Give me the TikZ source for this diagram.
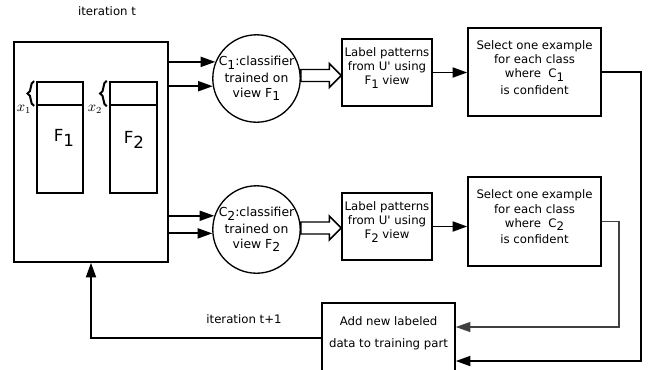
\documentclass[tikz,border=0pt]{standalone}
\usepackage{fontspec}
\setmainfont{DejaVu Sans}
\usetikzlibrary{arrows.meta,calc,fit,decorations.pathreplacing}
% lowered, same-size index as in "F1", "C1"
\newcommand\lowsub[1]{\raisebox{-0.55ex}{#1}}

\begin{document}
\begin{tikzpicture}[x=0.75pt,y=-0.75pt,
  every node/.style={font=\fontsize{8.8}{10.6}\selectfont},
  box/.style={draw, line width=1.1pt, inner sep=0pt, align=center},
  circ/.style={draw, circle, line width=1pt, minimum size=87*0.75pt, inner sep=0pt, align=center,
    font=\fontsize{9.3}{11}\selectfont},
  arr/.style={line width=1.4pt, -{Triangle[length=11pt,width=7.5pt]}},
  thinarr/.style={line width=0.9pt, draw=black!75, -{Triangle[length=11pt,width=7.5pt]}},
  hollow/.style={draw, line width=1.1pt, fill=white},
  bigF/.style={font=\fontsize{12.5}{14}\selectfont},
  idx/.style={font=\fontsize{10.5}{12}\selectfont, inner sep=0pt},
  featbrace/.style={decorate, decoration={brace, amplitude=5pt, aspect=0.5}, line width=1.5pt}
]
\useasboundingbox (0,0) rectangle (655,369);

% training data with its two feature views
\node[box, fit={(14,42)(168,262)}] (big) {};
\node[box, line width=1.3pt, fit={(37,82)(83,105)}] (f1head) {};
\node[box, fit={(37,105)(83,193)}] (f1) {};
\node[box, line width=1.8pt, fit={(110,82)(157,105)}] (f2head) {};
\node[box, fit={(110,105)(157,193)}] (f2) {};
\node[bigF] (f1lab) at (64,138) {F\lowsub{1}};
\node[bigF] (f2lab) at (134,140) {F\lowsub{2}};
\draw[featbrace] ([xshift=-1.5pt]f1head.south west) -- ([xshift=-1.5pt]f1head.north west);
\draw[featbrace] ([xshift=-1.5pt]f2head.south west) -- ([xshift=-1.5pt]f2head.north west);
\node[idx] (x1) at (24,109) {$x_1$};
\node[idx] (x2) at (95,109) {$x_2$};

% classifiers
\node[circ] (c1) at (256.5,78.5) {C\lowsub{1}:classifier\\[1.5pt]trained on\\view F\lowsub{1}};
\node[circ] (c2) at (256.5,229.5) {C\lowsub{2}:classifier\\[1.5pt]trained on\\view F\lowsub{2}};

% labelling steps
\node[box, fit={(342,39)(432,106)}] (l1) {Label patterns\\from U\textquotesingle{} using\\F\lowsub{1} view};
\node[box, fit={(342,193)(432,260)}] (l2) {Label patterns\\from U\textquotesingle{} using\\F\lowsub{2} view};

% selection steps
\node[box, fit={(468,28)(601,116)}] (s1) {Select one example\\for each class\\where~ C\lowsub{1}\\[2pt]is confident};
\node[box, fit={(468,177)(601,266)}] (s2) {Select one example\\for each class\\where~ C\lowsub{2}\\[2pt]is confident};

% update of the training part
\node[box, fit={(322,303)(455,373)}] (add) {Add new labeled\\[6pt]data to training part};

\node (itt) at (107,11) {iteration t};
\node (itt1) at (244,319) {iteration t+1};

% training data feeds both classifiers
\draw[arr] (big.east |- c1.158) -- (c1.158);
\draw[arr] (big.east |- c1.190) -- (c1.190);
\draw[arr] (big.east |- c2.162) -- (c2.162);
\draw[arr] (big.east |- c2.185) -- (c2.185);

% hollow arrows from classifiers to labelling
\foreach \c/\l in {c1/l1, c2/l2}{
  \path[hollow] let \p1=(\c.east), \p2=(\l.west), \n1={(\y1+\y2)/2} in
    (\x1,\n1-4.5pt) -- (\x2-9pt,\n1-4.5pt) -- (\x2-9pt,\n1-9pt) -- (\x2,\n1)
    -- (\x2-9pt,\n1+9pt) -- (\x2-9pt,\n1+4.5pt) -- (\x1,\n1+4.5pt) -- cycle;
}

\draw[arr] (l1.east) -- (l1.east -| s1.west);
\draw[arr] (l2.east) -- (l2.east -| s2.west);

% selected examples go back to the training part
\coordinate (r1) at (641,72);
\coordinate (r1b) at (641,361);
\coordinate (r2) at (619,222);
\coordinate (r2b) at (619,327);
\draw[arr] (s1.east) -- (s1.east -| r1) -- (r1b) -- (r1b -| add.east);
\draw[thinarr] (s2.east) -- (s2.east -| r2) -- (r2b) -- (r2b -| add.east);

% next iteration
\draw[arr] (add.west) -- (add.west -| big.south) -- (big.south);
\end{tikzpicture}
\end{document}
